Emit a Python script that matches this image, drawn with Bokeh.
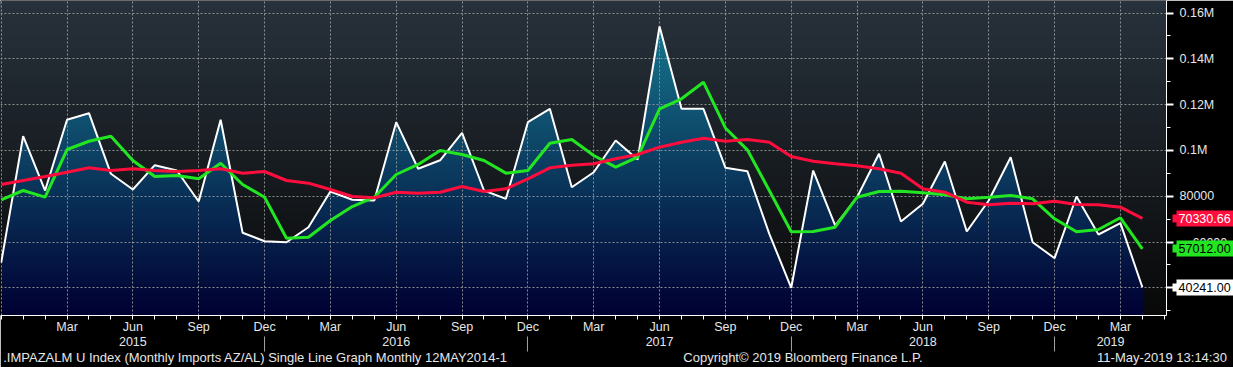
import numpy as np
from bokeh.plotting import figure
from bokeh.models import Range1d, LinearAxis, FixedTicker
from bokeh.embed import file_html
from bokeh.resources import INLINE

# ---------------- data (monthly, first month = Dec 2014) ----------------
first_year, first_month = 2014, 12
imports = [51000, 106200, 82490, 113370, 116250, 89780, 82930, 93540, 91220, 77690,
           113370, 64020, 60350, 59910, 66460, 82050, 78430, 78120, 112320, 91970,
           95700, 107690, 82490, 78860, 112320, 118170, 83930, 90480, 104330, 96030,
           154110, 118170, 118170, 92450, 90920, 63580, 40000, 91220, 67210, 79570,
           98520, 68950, 76680, 95160, 64590, 78120, 97030, 59910, 52930, 79870,
           63280, 68250, 40241.00]
avg_3m = [78430, 82490, 79570, 100390, 104010, 106200, 95590, 88600, 89040, 87600,
          94410, 85110, 79570, 61660, 62100, 69390, 75500, 79570, 89480, 93850,
          99960, 98210, 95590, 90060, 91220, 103150, 104760, 97780, 92670, 97030,
          118170, 122540, 129790, 109800, 100250, 82490, 64450, 64590, 66460, 79570,
          82050, 82200, 81480, 80610, 78860, 79570, 80310, 78860, 70130, 64450,
          65460, 70570, 57012.00]
avg_12m = [85110, 86860, 88600, 90480, 92400, 91220, 91970, 91220, 90790, 91220,
           91970, 90060, 90790, 86860, 85690, 82930, 79870, 79300, 81750, 81310,
           81750, 84240, 82050, 83230, 87600, 92400, 93540, 94150, 96330, 98210,
           101400, 103580, 105330, 104020, 104760, 103580, 97340, 95290, 94150, 93280,
           91970, 90060, 83230, 81750, 77380, 76250, 76940, 76680, 77820, 76380,
           76250, 75200, 70330.66]

month_names = ["Jan", "Feb", "Mar", "Apr", "May", "Jun", "Jul", "Aug", "Sep", "Oct", "Nov", "Dec"]
labelled_months = ["Mar", "Jun", "Sep", "Dec"]
y_ticks = [40000, 60000, 80000, 100000, 120000, 140000, 160000]
y_tick_labels = ["40000", "60000", "80000", "0.1M", "0.12M", "0.14M", "0.16M"]
footer_texts = [".IMPAZALM U Index (Monthly Imports AZ/AL) Single Line Graph  Monthly 12MAY2014-1",
                "Copyright\u00a9 2019 Bloomberg Finance L.P.",
                "11-May-2019 13:14:30"]

# ---------------- layout constants ----------------
W, H = 1233, 367
FRAME_W, FRAME_H = 1169, 315
n = len(imports)
x = np.arange(n, dtype=float)
x_start, x_end = -0.032, 53.1
y_lo, y_hi = 27904.0, 165464.0
px_per_x = FRAME_W / (x_end - x_start)

def xdata(px):      # canvas pixel -> x data
    return x_start + px / px_per_x

def month_of(i):
    return (first_month - 1 + i) % 12

def year_of(i):
    return first_year + (first_month - 1 + i) // 12

n_ticks = int(np.floor(x_end)) + 1
tick_pos = list(range(n_ticks))
tick_labels = {i: (month_names[month_of(i)] if (month_names[month_of(i)] in labelled_months and i > 0) else "")
               for i in tick_pos}
quarter_pos = [i for i in tick_pos if month_names[month_of(i)] in labelled_months]
dec_pos = [i for i in tick_pos if month_of(i) == 11 and i > 0]

bounds = [0] + dec_pos + [x_end]
year_pos, year_labels = [], {}
for a, b in zip(bounds[:-1], bounds[1:]):
    c = round((a + b) / 2.0, 3)
    year_pos.append(c)
    year_labels[c] = str(year_of(int(a) + 1))

TXT = "#e6e6e6"
FONT = "Liberation Sans"
WHITE, GREEN, RED = "#ffffff", "#22e622", "#ff0d3d"

p = figure(width=W, height=H,
           x_range=Range1d(x_start, x_end), y_range=Range1d(y_lo, y_hi),
           x_axis_location="below", y_axis_location="right",
           output_backend="svg", toolbar_location=None,
           min_border_left=0, min_border_top=0,
           min_border_right=W - FRAME_W, min_border_bottom=H - FRAME_H,
           background_fill_color="black", border_fill_color="black", outline_line_color=None)

# ---------------- gradient background ----------------
def lerp(c0, c1, f):
    return "#%02x%02x%02x" % tuple(int(round(a + (b - a) * f)) for a, b in zip(c0, c1))

nb = 90
edges = np.linspace(y_lo, y_hi, nb + 1)
tops = edges[1:][::-1]
dy = edges[1] - edges[0]
bg_cols = [lerp((40, 50, 60), (8, 8, 8), (y_hi - (t - dy / 2)) / (y_hi - y_lo)) for t in tops]
p.quad(left=-5, right=60, bottom=y_lo - 20000, top=tops, fill_color=bg_cols,
       line_color=None, level="image")

# ---------------- gradient area under the series ----------------
def clip_line(xv, yv, t):
    xs, ys = [xv[0]], [min(yv[0], t)]
    for i in range(len(xv) - 1):
        x0, x1, y0, y1 = xv[i], xv[i + 1], yv[i], yv[i + 1]
        if (y0 - t) * (y1 - t) < 0:
            xs.append(x0 + (t - y0) / (y1 - y0) * (x1 - x0))
            ys.append(t)
        xs.append(x1)
        ys.append(min(y1, t))
    return xs, ys

ymax = max(imports)
pxs, pys, pcols = [], [], []
for t in tops:
    if t - dy > ymax:
        continue
    cx, cy = clip_line(list(x), imports, t)
    pxs.append(cx + [cx[-1], cx[0]])
    pys.append(cy + [y_lo - 20000, y_lo - 20000])
    f = (y_hi - (t - dy / 2)) / (y_hi - y_lo)
    pcols.append(lerp((24, 128, 148), (0, 0, 50), f))
p.patches(xs=pxs, ys=pys, fill_color=pcols, line_color=None, level="image")

# ---------------- series ----------------
p.line(x, imports, line_color=WHITE, line_width=2)
p.line(x, avg_3m, line_color=GREEN, line_width=3)
p.line(x, avg_12m, line_color=RED, line_width=3)

# ---------------- grids ----------------
p.xgrid.ticker = FixedTicker(ticks=quarter_pos)
p.ygrid.ticker = FixedTicker(ticks=y_ticks)
for g in (p.xgrid, p.ygrid):
    g.grid_line_color = "#9a9a9a"
    g.grid_line_dash = "2 2"
    g.grid_line_width = 1
    g.grid_line_alpha = 0.9

# ---------------- month axis ----------------
xa = p.xaxis[0]
xa.ticker = FixedTicker(ticks=tick_pos)
xa.major_label_overrides = tick_labels
xa.major_tick_out = 4
xa.major_tick_in = 0
xa.minor_tick_out = 0
xa.minor_tick_in = 0
xa.major_label_standoff = 0
xa.axis_line_color = "white"
xa.major_tick_line_color = "white"
xa.major_label_text_color = TXT
xa.major_label_text_font = FONT
xa.major_label_text_font_size = "12.5px"

# ---------------- year axis (stacked below; separators as minor ticks) ----------------
xb = LinearAxis(ticker=FixedTicker(ticks=year_pos, minor_ticks=dec_pos),
                major_label_overrides=year_labels,
                major_tick_out=0, major_tick_in=0,
                minor_tick_in=0, minor_tick_out=15,
                minor_tick_line_color="#a0a0a0",
                axis_line_color=None, major_label_standoff=-15,
                major_label_text_color=TXT, major_label_text_font=FONT,
                major_label_text_font_size="12.5px")
p.add_layout(xb, "below")

# ---------------- footer (third bottom axis) ----------------
foot_centres = [3 + 509 / 2.0, 685 + 239 / 2.0, 1230 - 131 / 2.0]
foot_pos = [round(xdata(c), 3) for c in foot_centres]
xc = LinearAxis(ticker=FixedTicker(ticks=foot_pos, minor_ticks=[]),
                major_label_overrides={fp: t for fp, t in zip(foot_pos, footer_texts)},
                major_tick_out=0, major_tick_in=0,
                axis_line_color=None, major_label_standoff=1,
                major_label_text_color=TXT, major_label_text_font=FONT,
                major_label_text_font_size="13px")
p.add_layout(xc, "below")

# ---------------- value axis: line + ticks next to the frame (no labels) ----------------
TICK_OUT = 7
ya = p.yaxis[0]
ya.ticker = FixedTicker(ticks=y_ticks, minor_ticks=list(range(30000, 170001, 10000)))
ya.major_label_overrides = {v: "" for v in y_ticks}
ya.major_label_text_color = None
ya.major_label_standoff = 0
ya.axis_line_color = "white"
ya.major_tick_line_color = "white"
ya.major_tick_line_width = 2
ya.major_tick_out = TICK_OUT
ya.major_tick_in = 0
ya.minor_tick_line_color = "white"
ya.minor_tick_out = 4
ya.minor_tick_in = 0

def label_axis(ticks, standoff):
    return LinearAxis(ticker=FixedTicker(ticks=ticks, minor_ticks=[]),
                      major_label_overrides={v: s for v, s in zip(y_ticks, y_tick_labels) if v in ticks},
                      axis_line_color=None, major_tick_line_color=None, minor_tick_line_color=None,
                      major_tick_out=0, major_tick_in=0, minor_tick_out=0, minor_tick_in=0,
                      major_label_standoff=standoff,
                      major_label_text_color=TXT, major_label_text_font=FONT,
                      major_label_text_font_size="12.5px")

# lower value labels (mostly hidden beneath the tags); its width places the tags
low_ticks = y_ticks[:2]
p.add_layout(label_axis(low_ticks, 19), "right")

# ---------------- last-value tags (bars drawn as thick ticks) ----------------
tag_text_x, tag_box_x, tag_tip_x, tag_text_w = 1178, 1176, 1172, 52
tags = [(avg_12m[-1], RED, "white"), (avg_3m[-1], GREEN, "black"), (imports[-1], "#ffffff", "black")]
line_x = 1230                          # expected position of the first tag axis
for val, bg, fg in tags:
    out = max(W - line_x, 0)
    s = tag_text_x - line_x - out
    ax = LinearAxis(ticker=FixedTicker(ticks=[val], minor_ticks=[val]),
                    major_label_overrides={val: "%.2f" % val},
                    axis_line_color=None,
                    major_tick_in=line_x - tag_box_x, major_tick_out=out,
                    major_tick_line_color=bg, major_tick_line_width=16,
                    minor_tick_in=line_x - tag_tip_x, minor_tick_out=0,
                    minor_tick_line_color=bg, minor_tick_line_width=8,
                    major_label_standoff=s,
                    major_label_text_color=fg, major_label_text_font=FONT,
                    major_label_text_font_size="12.5px")
    p.add_layout(ax, "right")
    line_x += out + max(0, tag_text_w + s)

# upper value labels, last in the panel
p.add_layout(label_axis(y_ticks[2:], (FRAME_W + TICK_OUT + 3) - line_x), "right")

open("out.html", "w").write(file_html(p, INLINE))
